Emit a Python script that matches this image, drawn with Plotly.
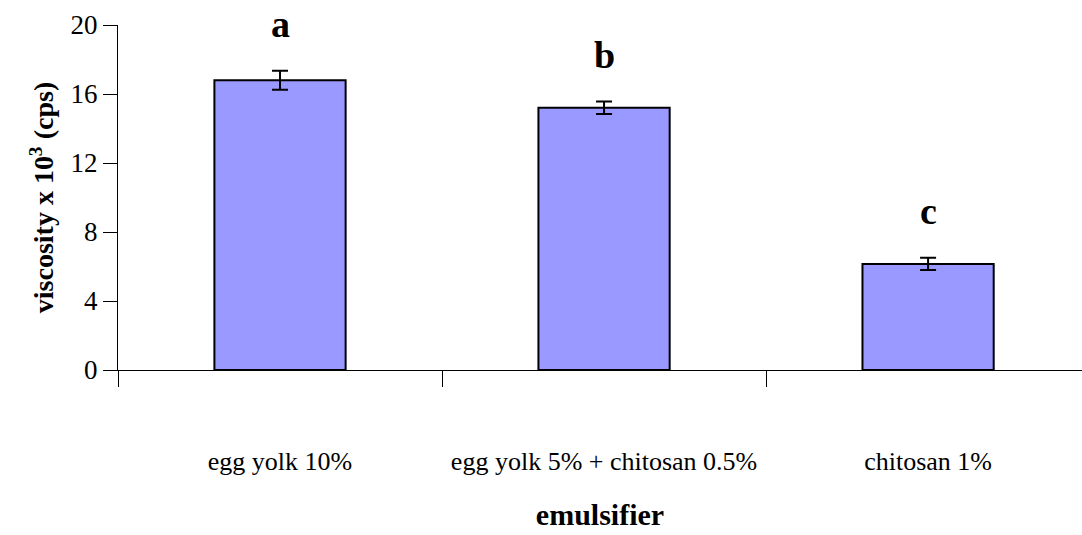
import plotly.graph_objects as go

# Emulsifier types and measured viscosity (x10^3 cps) with standard errors
categories = ["egg yolk 10%", "egg yolk 5% + chitosan 0.5%", "chitosan 1%"]
viscosity = [16.8, 15.2, 6.15]
error = [0.55, 0.36, 0.36]
letters = ["a", "b", "c"]
y_ticks = [0, 4, 8, 12, 16, 20]

FONT = "Liberation Serif, Times New Roman, serif"
positions = list(range(len(categories)))

fig = go.Figure()

fig.add_trace(go.Bar(
    x=positions,
    y=viscosity,
    width=0.405,
    marker=dict(color="#9999FF", line=dict(color="black", width=2)),
    error_y=dict(type="data", array=error, visible=True,
                 color="black", thickness=2, width=8),
    showlegend=False,
    hoverinfo="skip",
))

# Significance letters above each bar
for xi, v, e, t in zip(positions, viscosity, error, letters):
    fig.add_annotation(
        x=xi, y=v + e, text=f"<b>{t}</b>", showarrow=False,
        xanchor="center", yanchor="bottom", yshift=24,
        font=dict(family=FONT, size=38, color="black"),
    )

fig.update_layout(
    width=1082,
    height=535,
    margin=dict(l=118, r=0, t=25, b=165),
    paper_bgcolor="white",
    plot_bgcolor="white",
    font=dict(family=FONT, color="black"),
    xaxis=dict(
        range=[-0.5, 2.475],
        tickvals=positions,
        ticktext=categories,
        ticks="",
        ticklabelstandoff=68,
        tickfont=dict(family=FONT, size=26, color="black"),
        showline=True, linecolor="black", linewidth=1,
        showgrid=False, zeroline=False,
        automargin=False,
        title=dict(text="<b>emulsifier</b>", standoff=28,
                   font=dict(family=FONT, size=30, color="black")),
    ),
    # boundary tick marks between categories
    xaxis2=dict(
        overlaying="x", matches="x", side="bottom",
        range=[-0.5, 2.475],
        tickvals=[p - 0.5 for p in positions],
        ticks="outside", ticklen=16, tickcolor="black", tickwidth=1,
        showticklabels=False, showgrid=False, zeroline=False,
        showline=False,
    ),
    yaxis=dict(
        range=[0, 20],
        tickvals=y_ticks,
        ticks="outside", ticklen=14, tickcolor="black", tickwidth=1,
        tickfont=dict(family=FONT, size=27, color="black"),
        showline=True, linecolor="black", linewidth=1,
        showgrid=False, zeroline=False,
        automargin=False,
        title=dict(text="<b>viscosity x 10<sup>3</sup> (cps)</b>", standoff=8,
                   font=dict(family=FONT, size=28, color="black")),
    ),
)

# invisible trace so the overlay axis is drawn
fig.add_trace(go.Scatter(x=[positions[0]], y=[0], xaxis="x2", mode="markers",
                         marker=dict(opacity=0), showlegend=False, hoverinfo="skip"))

fig.write_html("out.html")
